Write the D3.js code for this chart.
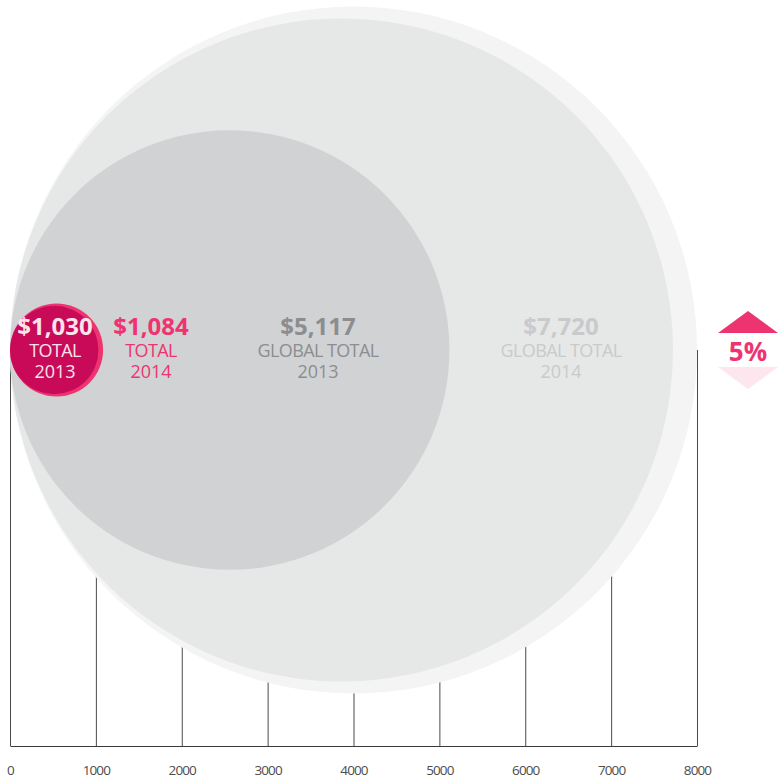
<!DOCTYPE html>
<html>
<head>
<meta charset="utf-8">
<script src="https://cdn.jsdelivr.net/npm/d3@7"></script>
<style>
  body { margin: 0; background: #fff; }
  svg text { font-family: 'Open Sans', sans-serif; }
</style>
</head>
<body>
<div class="chart"></div>
<script>
// values
const years = ['2013', '2014'];
const totals = [1030, 1084];
const globalTotals = [5117, 7720];
const axisTicks = [0, 1000, 2000, 3000, 4000, 5000, 6000, 7000, 8000];
const axisMax = 8000;
const changePct = 5;

const width = 781;
const height = 780;
const cy = 350;
const baseY = 746;

const svg = d3.select('.chart')
  .append('svg')
  .attr('width', width)
  .attr('height', height);

const x = d3.scaleLinear()
  .domain([0, axisMax])
  .range([10, 697]);

// axis: ticks run up to the middle of the circles, labels below
svg.append('g')
  .attr('transform', `translate(0,${baseY})`)
  .call(d3.axisBottom(x)
    .tickValues(axisTicks)
    .tickFormat(d3.format('d'))
    .tickSizeInner(-(baseY - cy))
    .tickSizeOuter(0)
    .tickPadding(19))
  .call((g) => g.select('.domain').attr('stroke', '#3a3a3a'))
  .call((g) => g.selectAll('.tick line').attr('stroke', '#4a4a4a'))
  .call((g) => g.selectAll('.tick text')
    .attr('fill', '#4d4d4d')
    .style('font-size', '13.5px')
    .style('letter-spacing', '-0.9px'));

// circles, all sitting on 0 at the left edge
const circles = [
  { value: axisMax, fill: '#f4f4f4' },
  { value: globalTotals[1], fill: '#e6e7e7' },
  { value: globalTotals[0], fill: '#d1d2d4' },
  { value: totals[1], fill: '#ee3470' },
  { value: totals[0], fill: '#c80a58' },
];

svg.selectAll('circle.bubble')
  .data(circles)
  .enter()
  .append('circle')
  .attr('class', 'bubble')
  .attr('cx', (d) => (x(0) + x(d.value)) / 2)
  .attr('cy', cy)
  .attr('r', (d) => (x(d.value) - x(0)) / 2)
  .attr('fill', (d) => d.fill);

// labels
const fmt = (v) => `$${d3.format(',')(v)}`;
const labels = [
  { cx: 55, value: totals[0], sub: 'TOTAL', year: years[0], big: '#fbe3ec', small: '#fbe3ec' },
  { cx: 151, value: totals[1], sub: 'TOTAL', year: years[1], big: '#ee3470', small: '#ee3470' },
  { cx: 318, value: globalTotals[0], sub: 'GLOBAL TOTAL', year: years[0], big: '#8c8d8f', small: '#8c8d8f' },
  { cx: 561, value: globalTotals[1], sub: 'GLOBAL TOTAL', year: years[1], big: '#c9cacb', small: '#c9cacb' },
];

const lab = svg.selectAll('g.lab')
  .data(labels)
  .enter()
  .append('g')
  .attr('class', 'lab')
  .attr('transform', (d) => `translate(${d.cx},0)`)
  .attr('text-anchor', 'middle');

lab.append('text')
  .attr('y', cy - 15)
  .attr('fill', (d) => d.big)
  .style('font-size', '24px')
  .style('font-weight', 700)
  .text((d) => fmt(d.value));

lab.append('text')
  .attr('y', cy + 7)
  .attr('fill', (d) => d.small)
  .style('font-size', '18px')
  .style('letter-spacing', '-0.6px')
  .text((d) => d.sub);

lab.append('text')
  .attr('y', cy + 28)
  .attr('fill', (d) => d.small)
  .style('font-size', '18px')
  .text((d) => d.year);

// change indicator
const ind = svg.append('g').attr('transform', 'translate(748,0)');
ind.append('path')
  .attr('d', d3.line()([[-30, 333], [0, 311], [30, 333]]) + 'Z')
  .attr('fill', '#ee3470');
ind.append('path')
  .attr('d', d3.line()([[-30, 367], [0, 389], [30, 367]]) + 'Z')
  .attr('fill', '#fde6ee');
ind.append('text')
  .attr('y', 361)
  .attr('text-anchor', 'middle')
  .attr('fill', '#ee3470')
  .style('font-size', '26px')
  .style('font-weight', 700)
  .text(`${changePct}%`);
</script>
</body>
</html>
